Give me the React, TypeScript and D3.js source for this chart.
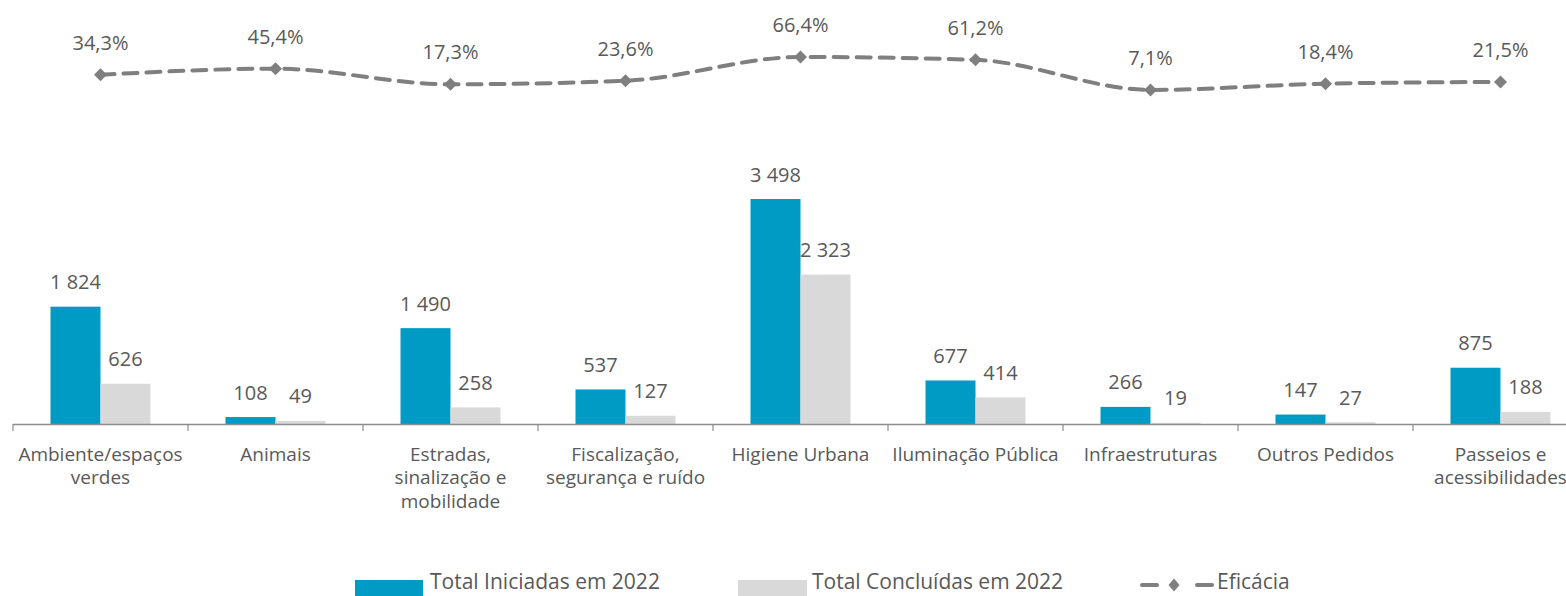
import React from "react";
import * as d3 from "d3";

const categories: string[][] = [
  ["Ambiente/espaços", "verdes"],
  ["Animais"],
  ["Estradas,", "sinalização e", "mobilidade"],
  ["Fiscalização,", "segurança e ruído"],
  ["Higiene Urbana"],
  ["Iluminação Pública"],
  ["Infraestruturas"],
  ["Outros Pedidos"],
  ["Passeios e", "acessibilidades"],
];
const iniciadas = [1824, 108, 1490, 537, 3498, 677, 266, 147, 875];
const concluidas = [626, 49, 258, 127, 2323, 414, 19, 27, 188];
const eficacia = [34.3, 45.4, 17.3, 23.6, 66.4, 61.2, 7.1, 18.4, 21.5];
const legendLabels = ["Total Iniciadas em 2022", "Total Concluídas em 2022", "Eficácia"];

const W = 1566;
const H = 596;
const BLUE = "#009BC4";
const GRAY = "#D9D9D9";
const LINE = "#7F7F7F";
const TEXT = "#595959";
const FONT = "'Open Sans', sans-serif";

const fmt = (v: number) => d3.format(",")(v).replace(/,/g, " ");
const fmtPct = (v: number) => v.toFixed(1).replace(".", ",") + "%";

export default function App() {
  const idx = categories.map((_, i) => String(i));
  const x = d3.scaleBand<string>().domain(idx).range([13, 13 + 175 * 9]).paddingInner(0).paddingOuter(0);
  const y = d3.scaleLinear().domain([0, 3498]).range([424, 199]);
  const yl = d3.scaleLinear().domain([0, 100]).range([93.9, 38.3]);
  const barW = 50;

  const linePts: [number, number][] = eficacia.map((v, i) => [x(String(i))! + x.bandwidth() / 2, yl(v)]);
  const lineGen = d3.line().curve(d3.curveMonotoneX);

  const diamond = (cx: number, cy: number, rx = 6.5, ry = 6.5) =>
    `M${cx},${cy - ry}L${cx + rx},${cy}L${cx},${cy + ry}L${cx - rx},${cy}Z`;

  return (
    <svg width={W} height={H} style={{ position: "fixed", left: 0, top: 0, background: "#fff" }} fontFamily={FONT}>
      {categories.map((_, i) => {
        const cx = x(String(i))! + x.bandwidth() / 2;
        return (
          <g key={i}>
            <rect x={cx - barW} y={y(iniciadas[i])} width={barW} height={y(0) - y(iniciadas[i])} fill={BLUE} />
            <rect x={cx} y={y(concluidas[i])} width={barW} height={y(0) - y(concluidas[i])} fill={GRAY} />
            <text x={cx - barW / 2} y={y(iniciadas[i]) - 17.5} textAnchor="middle" fontSize={20} fill={TEXT}>
              {fmt(iniciadas[i])}
            </text>
            <text x={cx + barW / 2} y={y(concluidas[i]) - 17.5} textAnchor="middle" fontSize={20} fill={TEXT}>
              {fmt(concluidas[i])}
            </text>
          </g>
        );
      })}
      <line x1={13} x2={13 + 175 * 9} y1={424.5} y2={424.5} stroke="#8C8C8C" strokeWidth={1.5} />
      {d3.range(10).map((i) => (
        <line key={i} x1={13 + 175 * i} x2={13 + 175 * i} y1={424} y2={431} stroke="#8C8C8C" strokeWidth={1.2} />
      ))}
      {categories.map((lines, i) => {
        const cx = x(String(i))! + x.bandwidth() / 2;
        return (
          <text key={i} textAnchor="middle" fontSize={19} fill={TEXT}>
            {lines.map((l, j) => (
              <tspan key={j} x={cx} y={460.5 + j * 23.5}>
                {l}
              </tspan>
            ))}
          </text>
        );
      })}
      <path d={lineGen(linePts)!} fill="none" stroke={LINE} strokeWidth={4} strokeDasharray="14 9" strokeLinecap="round" />
      {linePts.map(([px, py], i) => (
        <g key={i}>
          <path d={diamond(px, py)} fill={LINE} />
          <text x={px} y={py - 25} textAnchor="middle" fontSize={20} fill={TEXT}>
            {fmtPct(eficacia[i])}
          </text>
        </g>
      ))}
      <rect x={355} y={580} width={68} height={16} fill={BLUE} />
      <text x={430} y={589} fontSize={21} fill={TEXT}>{legendLabels[0]}</text>
      <rect x={738} y={580} width={69} height={16} fill={GRAY} />
      <text x={812} y={589} fontSize={21} fill={TEXT}>{legendLabels[1]}</text>
      <line x1={1142} x2={1157} y1={585} y2={585} stroke={LINE} strokeWidth={4} strokeLinecap="round" />
      <line x1={1197} x2={1212} y1={585} y2={585} stroke={LINE} strokeWidth={4} strokeLinecap="round" />
      <path d={diamond(1174, 585, 5.5, 6.5)} fill={LINE} />
      <text x={1217} y={589} fontSize={21} fill={TEXT}>{legendLabels[2]}</text>
    </svg>
  );
}
